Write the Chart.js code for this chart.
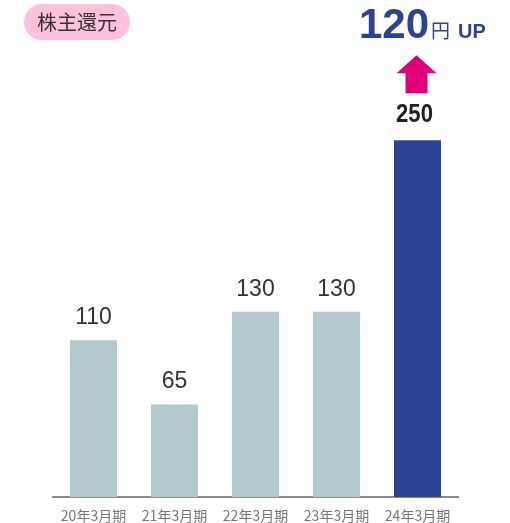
<!DOCTYPE html>
<html lang="ja">
<head>
<meta charset="utf-8">
<script src="https://cdn.jsdelivr.net/npm/chart.js@4/dist/chart.umd.min.js"></script>
<style>
  html, body { margin: 0; padding: 0; background: #fff; overflow: hidden; }
  #wrap { position: relative; width: 510px; height: 523px; }
  #badge {
    position: absolute; left: 24px; top: 4px; width: 106px; height: 36px;
    border-radius: 18px; background: #fdc1dd; color: #333;
    font: 20px "Noto Sans CJK JP", sans-serif; line-height: 36px; text-align: center;
  }
  #headline {
    position: absolute; left: 359px; top: 0px; color: #2b4297; white-space: nowrap;
    font-family: "Liberation Sans", Arial, sans-serif; font-weight: bold;
  }
  #headline .num { font-size: 42px; }
  #headline .yen { font: 19px "Noto Sans CJK JP", sans-serif; font-weight: normal; margin-left: 2px; }
  #headline .up { font-size: 20px; margin-left: 8px; }
</style>
</head>
<body>
<div id="wrap">
  <canvas id="c" width="510" height="523"></canvas>
  <div id="badge">株主還元</div>
  <div id="headline"><span class="num">120</span><span class="yen">円</span><span class="up">UP</span></div>
</div>
<script>
const periods = ["20年3月期", "21年3月期", "22年3月期", "23年3月期", "24年3月期"];
const dividends = [110, 65, 130, 130, 250];
const barColors = ["#b2c9cf", "#b2c9cf", "#b2c9cf", "#b2c9cf", "#2b4297"];

// Value labels above each bar; the latest year is emphasised
const valueLabels = {
  id: "valueLabels",
  afterDatasetsDraw(chart) {
    const ctx = chart.ctx;
    const meta = chart.getDatasetMeta(0);
    const last = dividends.length - 1;
    ctx.save();
    ctx.textAlign = "center";
    ctx.textBaseline = "alphabetic";
    meta.data.forEach((bar, i) => {
      if (i === last) {
        ctx.save();
        ctx.translate(bar.x - 3, bar.y - 18);
        ctx.scale(0.85, 1);
        ctx.font = "bold 26px 'Liberation Sans', Arial, sans-serif";
        ctx.fillStyle = "#222";
        ctx.fillText(String(dividends[i]), 0, 0);
        ctx.restore();
      } else {
        ctx.font = "23px 'Liberation Sans', Arial, sans-serif";
        ctx.fillStyle = "#333";
        ctx.fillText(String(dividends[i]), bar.x, bar.y - 16);
      }
    });
    // Upward arrow over the latest bar
    const b = meta.data[last];
    const cx = b.x - 1;
    const top = b.y - 85;
    ctx.fillStyle = "#e0007a";
    ctx.beginPath();
    ctx.moveTo(cx, top);
    ctx.lineTo(cx + 20, top + 18);
    ctx.lineTo(cx + 11, top + 18);
    ctx.lineTo(cx + 11, top + 38);
    ctx.lineTo(cx - 11, top + 38);
    ctx.lineTo(cx - 11, top + 18);
    ctx.lineTo(cx - 20, top + 18);
    ctx.closePath();
    ctx.fill();
    ctx.restore();
  }
};

new Chart(document.getElementById("c"), {
  type: "bar",
  data: {
    labels: periods,
    datasets: [{
      data: dividends,
      backgroundColor: barColors,
      categoryPercentage: 1,
      barPercentage: 0.58
    }]
  },
  options: {
    responsive: false,
    animation: false,
    layout: { padding: { left: 53, right: 52, top: 69, bottom: -11 } },
    plugins: { legend: { display: false }, tooltip: { enabled: false } },
    scales: {
      y: { display: false, min: 0, max: 300 },
      x: {
        grid: { display: false, drawTicks: false },
        border: { display: true, color: "#8a8a8a", width: 2 },
        ticks: {
          padding: 10,
          color: "#777",
          font: { family: "'Noto Sans CJK JP', sans-serif", size: 14 }
        }
      }
    }
  },
  plugins: [valueLabels]
});
</script>
</body>
</html>
